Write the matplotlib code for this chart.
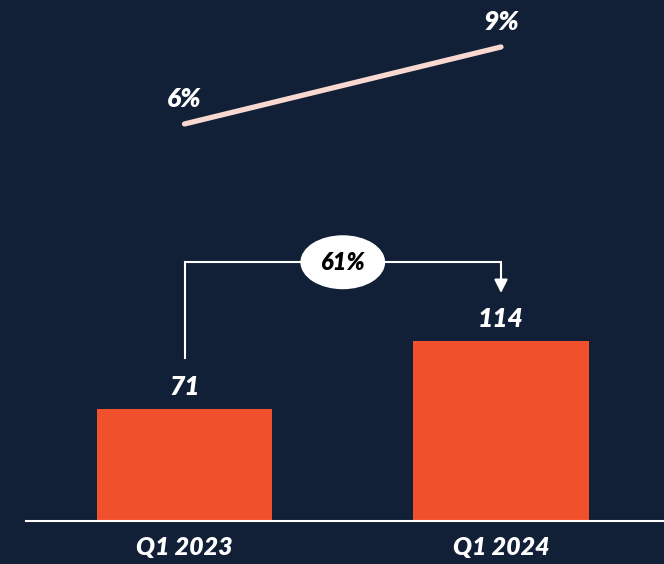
import matplotlib
matplotlib.use("Agg")
import matplotlib.pyplot as plt

# Data
categories = ["Q1 2023", "Q1 2024"]
bar_values = [71, 114]
rate_values = [6, 9]
rate_labels = ["6%", "9%"]
growth_label = "61%"

BG = "#112036"
BAR = "#f0502b"
LINE = "#f8d8d0"
FONT = ["Lato", "DejaVu Sans"]
TXT = dict(family=FONT, fontweight="heavy", fontstyle="italic")

fig = plt.figure(figsize=(6.64, 5.64), dpi=100, facecolor=BG)
ax_h = 521 / 564
ax = fig.add_axes([0, 1 - ax_h, 1, ax_h])
ax.set_facecolor(BG)

x = list(range(len(categories)))
ax.bar(x, bar_values, width=0.553, color=BAR, zorder=2)
ax.set_xlim(-0.583, 1.515)
ax.set_ylim(0, 330.2)
for s in ["top", "right", "left"]:
    ax.spines[s].set_visible(False)
ax.spines["bottom"].set_color("white")
ax.spines["bottom"].set_linewidth(1.5)
ax.spines["bottom"].set_bounds(-0.5, 1.6)
ax.set_yticks([])
ax.set_xticks(x)
ax.set_xticklabels(categories, fontsize=18, color="white", **TXT)
ax.tick_params(axis="x", length=0, pad=11)

for xi, v in zip(x, bar_values):
    ax.annotate(str(v), (xi, v), xytext=(0, 7), textcoords="offset points",
                ha="center", va="bottom", fontsize=19, color="white", **TXT)

# Growth bracket between the bars
start_y = bar_values[0] + 32
top_y = 164
tip_y = bar_values[1] + 30.5
ax.plot([x[0], x[0], x[1], x[1]], [start_y, top_y, top_y, tip_y + 8],
        color="white", lw=1.5, zorder=3, solid_joinstyle="miter")
ax.annotate("", xy=(x[1], tip_y), xytext=(x[1], tip_y + 10),
            arrowprops=dict(arrowstyle="-|>,head_length=0.8,head_width=0.4",
                            color="white", lw=1.5, shrinkA=0, shrinkB=0))
mid = (x[0] + x[1]) / 2
ax.text(mid, top_y, growth_label, ha="center", va="center",
        fontsize=17, color="black", zorder=5,
        bbox=dict(boxstyle="ellipse,pad=0.3", fc="white", ec="white"), **TXT)

# Rate line on its own scale
ax2 = fig.add_axes([0, 1 - ax_h, 1, ax_h], sharex=ax)
ax2.set_facecolor("none")
ax2.set_ylim(-9.47, 10.83)
ax2.axis("off")
ax2.plot(x, rate_values, color=LINE, lw=3.8, solid_capstyle="round", zorder=3)
for xi, v, lab in zip(x, rate_values, rate_labels):
    ax2.annotate(lab, (xi, v), xytext=(0, 9), textcoords="offset points",
                 ha="center", va="bottom", fontsize=19, color="white", **TXT)

fig.savefig("out.png", dpi=100, facecolor=BG)
